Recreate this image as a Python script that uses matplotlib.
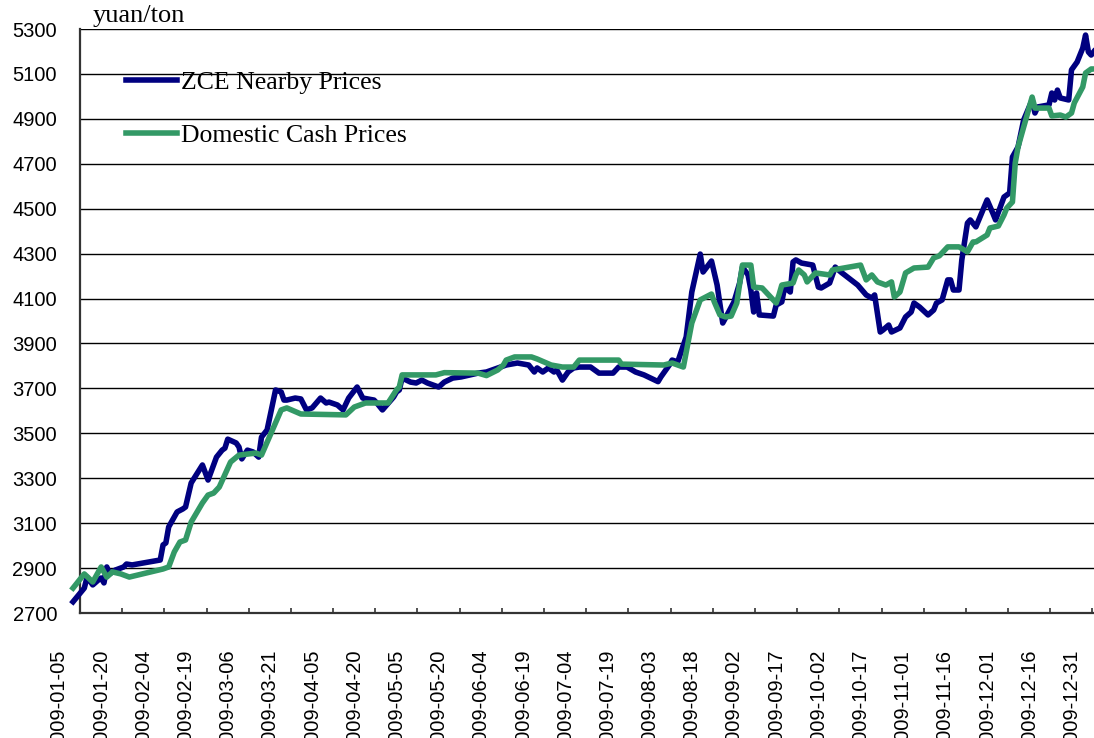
import matplotlib.pyplot as plt
import pandas as pd

# ZCE nearby futures prices (yuan/ton)
zce_dates = [
    "2009-01-10", "2009-01-14", "2009-01-15", "2009-01-17", "2009-01-19", "2009-01-20",
    "2009-01-21", "2009-01-22", "2009-01-23", "2009-01-25", "2009-01-28", "2009-01-29",
    "2009-01-31", "2009-02-10", "2009-02-11", "2009-02-12", "2009-02-13", "2009-02-16",
    "2009-02-18", "2009-02-19", "2009-02-21", "2009-02-25", "2009-02-27", "2009-03-02",
    "2009-03-04", "2009-03-05", "2009-03-06", "2009-03-09", "2009-03-10", "2009-03-11",
    "2009-03-13", "2009-03-15", "2009-03-17", "2009-03-18", "2009-03-20", "2009-03-23",
    "2009-03-25", "2009-03-26", "2009-03-27", "2009-03-30", "2009-04-01", "2009-04-03",
    "2009-04-05", "2009-04-08", "2009-04-10", "2009-04-11", "2009-04-14", "2009-04-16",
    "2009-04-18", "2009-04-21", "2009-04-23", "2009-04-27", "2009-04-28", "2009-04-30",
    "2009-05-04", "2009-05-05", "2009-05-06", "2009-05-07", "2009-05-10", "2009-05-12",
    "2009-05-14", "2009-05-16", "2009-05-20", "2009-05-22", "2009-05-25", "2009-05-28",
    "2009-06-03", "2009-06-06", "2009-06-10", "2009-06-13", "2009-06-17", "2009-06-21",
    "2009-06-23", "2009-06-24", "2009-06-26", "2009-06-28", "2009-06-30", "2009-07-01",
    "2009-07-03", "2009-07-05", "2009-07-07", "2009-07-09", "2009-07-13", "2009-07-16",
    "2009-07-21", "2009-07-23", "2009-07-26", "2009-07-29", "2009-08-01", "2009-08-06",
    "2009-08-07", "2009-08-10", "2009-08-11", "2009-08-13", "2009-08-16", "2009-08-18",
    "2009-08-21", "2009-08-22", "2009-08-25", "2009-08-27", "2009-08-29", "2009-08-30",
    "2009-09-02", "2009-09-04", "2009-09-05", "2009-09-07", "2009-09-08", "2009-09-09",
    "2009-09-10", "2009-09-11", "2009-09-16", "2009-09-17", "2009-09-19", "2009-09-20",
    "2009-09-22", "2009-09-23", "2009-09-24", "2009-09-26", "2009-09-30", "2009-10-02",
    "2009-10-03", "2009-10-06", "2009-10-08", "2009-10-10", "2009-10-16", "2009-10-19",
    "2009-10-21", "2009-10-22", "2009-10-24", "2009-10-25", "2009-10-27", "2009-10-28",
    "2009-10-31", "2009-11-02", "2009-11-04", "2009-11-05", "2009-11-07", "2009-11-10",
    "2009-11-12", "2009-11-13", "2009-11-15", "2009-11-17", "2009-11-18", "2009-11-19",
    "2009-11-21", "2009-11-22", "2009-11-24", "2009-11-25", "2009-11-27", "2009-12-01",
    "2009-12-03", "2009-12-04", "2009-12-07", "2009-12-09", "2009-12-10", "2009-12-12",
    "2009-12-14", "2009-12-17", "2009-12-18", "2009-12-19", "2009-12-23", "2009-12-24",
    "2009-12-25", "2009-12-26", "2009-12-27", "2009-12-30", "2009-12-31", "2010-01-02",
    "2010-01-04", "2010-01-05", "2010-01-06", "2010-01-07", "2010-01-08",
]
zce_prices = [
    2750, 2811, 2860, 2825, 2847, 2856,
    2834, 2905, 2874, 2891, 2905, 2918,
    2914, 2936, 3003, 3012, 3083, 3150,
    3163, 3172, 3279, 3359, 3292, 3394,
    3425, 3434, 3474, 3457, 3439, 3386,
    3425, 3417, 3394, 3483, 3515, 3693,
    3684, 3648, 3648, 3657, 3653, 3604,
    3613, 3657, 3635, 3639, 3626, 3604,
    3657, 3706, 3657, 3648, 3635, 3604,
    3662, 3684, 3693, 3746, 3728, 3724,
    3737, 3724, 3706, 3728, 3746, 3751,
    3768, 3773, 3791, 3804, 3813, 3804,
    3773, 3791, 3773, 3791, 3773, 3782,
    3737, 3773, 3791, 3795, 3795, 3768,
    3768, 3795, 3795, 3773, 3760, 3730,
    3751, 3804, 3826, 3818, 3929, 4129,
    4298, 4218, 4267, 4160, 3991, 4014,
    4085, 4169, 4240, 4205, 4138, 4040,
    4125, 4027, 4022, 4071, 4085, 4151,
    4129, 4263, 4272, 4258, 4249, 4151,
    4147, 4169, 4240, 4218, 4160, 4116,
    4102, 4116, 3951, 3960, 3982, 3951,
    3969, 4018, 4040, 4080, 4062, 4027,
    4049, 4080, 4094, 4183, 4183, 4138,
    4138, 4272, 4436, 4450, 4419, 4539,
    4481, 4450, 4552, 4570, 4730, 4775,
    4895, 4984, 4926, 4953, 4962, 5015,
    4984, 5028, 4993, 4984, 5118, 5153,
    5215, 5273, 5198, 5184, 5200,
]

# Domestic cash prices (yuan/ton)
cash_dates = [
    "2009-01-10", "2009-01-14", "2009-01-17", "2009-01-20", "2009-01-22", "2009-01-24",
    "2009-01-27", "2009-01-30", "2009-02-11", "2009-02-13", "2009-02-15", "2009-02-17",
    "2009-02-19", "2009-02-21", "2009-02-25", "2009-02-27", "2009-03-01", "2009-03-03",
    "2009-03-07", "2009-03-10", "2009-03-16", "2009-03-18", "2009-03-25", "2009-03-27",
    "2009-04-01", "2009-04-17", "2009-04-20", "2009-04-24", "2009-05-02", "2009-05-05",
    "2009-05-06", "2009-05-07", "2009-05-19", "2009-05-22", "2009-06-03", "2009-06-06",
    "2009-06-10", "2009-06-12", "2009-06-13", "2009-06-16", "2009-06-22", "2009-06-24",
    "2009-06-29", "2009-07-03", "2009-07-07", "2009-07-09", "2009-07-23", "2009-07-24",
    "2009-08-08", "2009-08-11", "2009-08-15", "2009-08-18", "2009-08-21", "2009-08-25",
    "2009-08-26", "2009-08-28", "2009-08-30", "2009-09-01", "2009-09-03", "2009-09-05",
    "2009-09-08", "2009-09-09", "2009-09-12", "2009-09-17", "2009-09-18", "2009-09-19",
    "2009-09-23", "2009-09-24", "2009-09-25", "2009-09-27", "2009-09-28", "2009-10-01",
    "2009-10-06", "2009-10-07", "2009-10-17", "2009-10-19", "2009-10-21", "2009-10-23",
    "2009-10-26", "2009-10-28", "2009-10-29", "2009-10-31", "2009-11-02", "2009-11-05",
    "2009-11-10", "2009-11-12", "2009-11-14", "2009-11-17", "2009-11-21", "2009-11-24",
    "2009-11-26", "2009-11-27", "2009-12-01", "2009-12-02", "2009-12-05", "2009-12-07",
    "2009-12-08", "2009-12-10", "2009-12-11", "2009-12-12", "2009-12-15", "2009-12-17",
    "2009-12-18", "2009-12-23", "2009-12-24", "2009-12-27", "2009-12-29", "2009-12-31",
    "2010-01-01", "2010-01-04", "2010-01-05", "2010-01-07", "2010-01-08",
]
cash_prices = [
    2811, 2874, 2838, 2905, 2860, 2883,
    2874, 2860, 2896, 2905, 2972, 3016,
    3025, 3105, 3190, 3225, 3234, 3261,
    3372, 3403, 3412, 3403, 3604, 3613,
    3586, 3582, 3617, 3635, 3635, 3693,
    3706, 3760, 3760, 3770, 3768, 3757,
    3782, 3804, 3826, 3840, 3840, 3831,
    3804, 3795, 3795, 3826, 3826, 3808,
    3804, 3813, 3795, 3991, 4094, 4120,
    4085, 4027, 4018, 4022, 4080, 4249,
    4249, 4151, 4147, 4080, 4116, 4160,
    4169, 4205, 4227, 4205, 4174, 4214,
    4205, 4227, 4249, 4183, 4205, 4174,
    4160, 4174, 4107, 4129, 4214, 4236,
    4240, 4281, 4290, 4330, 4330, 4308,
    4352, 4352, 4383, 4414, 4423, 4472,
    4503, 4530, 4704, 4775, 4908, 4997,
    4948, 4948, 4913, 4917, 4908, 4926,
    4971, 5042, 5104, 5122, 5122,
]

tick_labels = [
    "2009-01-05", "2009-01-20", "2009-02-04", "2009-02-19", "2009-03-06",
    "2009-03-21", "2009-04-05", "2009-04-20", "2009-05-05", "2009-05-20",
    "2009-06-04", "2009-06-19", "2009-07-04", "2009-07-19", "2009-08-03",
    "2009-08-18", "2009-09-02", "2009-09-17", "2009-10-02", "2009-10-17",
    "2009-11-01", "2009-11-16", "2009-12-01", "2009-12-16", "2009-12-31",
]
y_ticks = [2700, 2900, 3100, 3300, 3500, 3700, 3900, 4100, 4300, 4500, 4700, 4900, 5100, 5300]

start = pd.Timestamp("2009-01-05")
zce_x = (pd.to_datetime(zce_dates) - start).days
cash_x = (pd.to_datetime(cash_dates) - start).days
label_x = (pd.to_datetime(tick_labels) - start).days

W, H = 1094, 738
fig = plt.figure(figsize=(W / 100, H / 100), dpi=100)
ax = fig.add_axes([40 / W, 1 - 613 / H, (W - 40) / W, (613 - 29) / H])

x_left, x_right = -6.75, 368.0
y_axis_x = 7.46   # where the value axis crosses
ax.set_xlim(x_left, x_right)
ax.set_ylim(2700, 5300)

ax.hlines(y_ticks[1:], y_axis_x, x_right, color="black", lw=1.0, zorder=1)

ax.plot(zce_x, zce_prices, color="#000080", lw=4.0, label="ZCE Nearby Prices",
        solid_joinstyle="round", zorder=3)
ax.plot(cash_x, cash_prices, color="#339966", lw=4.0, label="Domestic Cash Prices",
        solid_joinstyle="round", zorder=4)

for side in ["top", "right"]:
    ax.spines[side].set_visible(False)
ax.spines["left"].set_position(("data", y_axis_x))
ax.spines["left"].set_linewidth(1.6)
ax.spines["left"].set_color("#333333")
ax.spines["bottom"].set_bounds(y_axis_x, x_right)
ax.spines["bottom"].set_linewidth(1.6)
ax.spines["bottom"].set_color("#333333")

ax.set_yticks(y_ticks)
ax.set_yticklabels([str(v) for v in y_ticks])
ax.tick_params(axis="y", length=0, pad=16.5, labelsize=14.5)
for lab in ax.get_yticklabels():
    lab.set_family(["Liberation Sans", "DejaVu Sans"])

ax.set_xticks(label_x)
ax.set_xticklabels(tick_labels, rotation=90, fontsize=14.5, family=["Liberation Sans", "DejaVu Sans"])
ax.tick_params(axis="x", which="major", length=0, pad=26.5)
ax.set_xticks([y_axis_x + 15 * k for k in range(25)], minor=True)
ax.tick_params(axis="x", which="minor", direction="in", length=3.8, width=1.2, color="#333333")

serif = ["Liberation Serif", "DejaVu Serif"]
fig.text(93 / W, 1 - 16 / H, "yuan/ton", family=serif, fontsize=19, va="center", ha="left")

leg = ax.legend(loc="upper left", bbox_to_anchor=(126 / W, 1 - 71 / H),
                bbox_transform=fig.transFigure, frameon=False, borderpad=0, borderaxespad=0,
                handlelength=2.0, handletextpad=0.15, labelspacing=1.17,
                prop={"family": serif, "size": 18.5})

fig.savefig("out.png", dpi=100)
